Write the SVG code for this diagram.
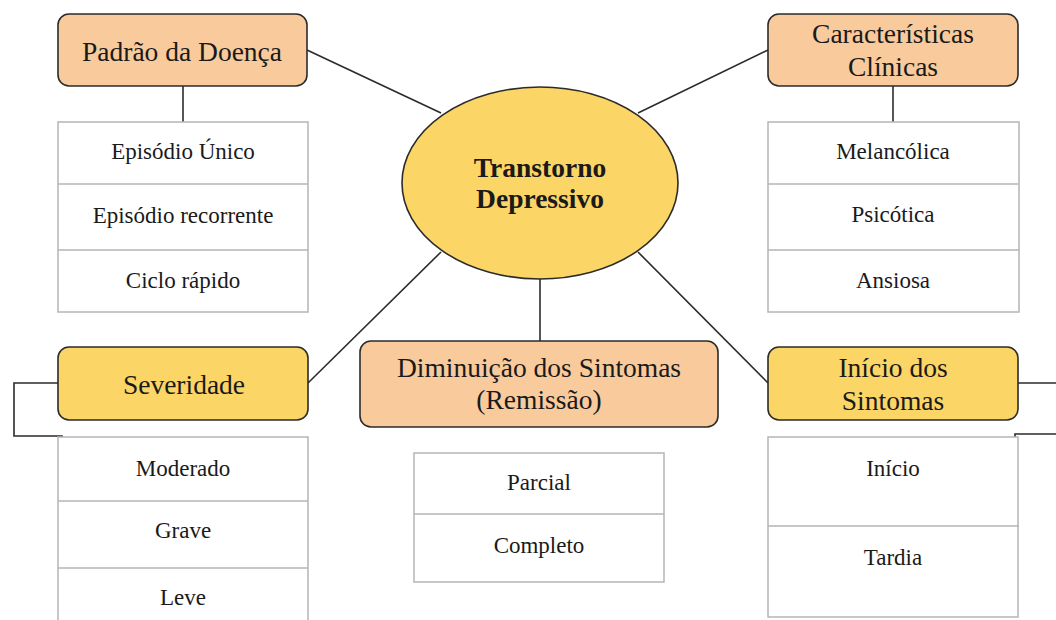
<svg xmlns="http://www.w3.org/2000/svg" width="1056" height="620" viewBox="0 0 1056 620">
<style>
.peach{fill:#F8CA9C;stroke:#2b2b2b;stroke-width:1.6}
.yellow{fill:#FBD565;stroke:#2b2b2b;stroke-width:1.6}
.tbl{fill:#fff;stroke:#b5b5b5;stroke-width:1.5}
.sep{stroke:#b5b5b5;stroke-width:1.5}
.title{font-family:"Liberation Serif",serif;font-size:27.5px;fill:#1a1a1a;text-anchor:middle}
.item{font-family:"Liberation Serif",serif;font-size:23px;fill:#1a1a1a;text-anchor:middle}
.center{font-family:"Liberation Serif",serif;font-size:27.5px;font-weight:bold;fill:#1a1a1a;text-anchor:middle}
.conn{fill:none;stroke:#2b2b2b;stroke-width:1.6}
</style>
<rect width="1056" height="620" fill="#fff"/>
<g id="connectors">
<line class="conn" x1="307" y1="50" x2="441" y2="113"/>
<line class="conn" x1="768" y1="50" x2="638" y2="113"/>
<line class="conn" x1="441" y1="252" x2="308" y2="383"/>
<line class="conn" x1="638" y1="252" x2="768" y2="383"/>
<line class="conn" x1="540" y1="279" x2="540" y2="341"/>
<line class="conn" x1="183" y1="86" x2="183" y2="122"/>
<line class="conn" x1="893" y1="86" x2="893" y2="122"/>
<polyline class="conn" points="58,383 14,383 14,436 62,436 62,453"/>
<line class="conn" x1="1018" y1="383" x2="1056" y2="383"/>
<polyline class="conn" points="1056,434 1015,434 1015,450"/>
</g>
<g id="center">
<ellipse class="yellow" cx="540" cy="183" rx="138" ry="96"/>
<text class="center" x="540" y="177">Transtorno</text>
<text class="center" x="540" y="208">Depressivo</text>
</g>
<g id="padrao">
<rect class="peach" x="58" y="14" width="249" height="72" rx="11"/>
<text class="title" x="182" y="61">Padrão da Doença</text>
</g>
<g id="padrao-list">
<rect class="tbl" x="58" y="122" width="250" height="190"/>
<line class="sep" x1="58" y1="184" x2="308" y2="184"/>
<line class="sep" x1="58" y1="250" x2="308" y2="250"/>
<text class="item" x="183" y="159">Episódio Único</text>
<text class="item" x="183" y="223">Episódio recorrente</text>
<text class="item" x="183" y="288">Ciclo rápido</text>
</g>
<g id="caracteristicas">
<rect class="peach" x="768" y="14" width="250" height="72" rx="11"/>
<text class="title" x="893" y="43">Características</text>
<text class="title" x="893" y="76">Clínicas</text>
</g>
<g id="caracteristicas-list">
<rect class="tbl" x="768" y="122" width="251" height="190"/>
<line class="sep" x1="768" y1="184" x2="1019" y2="184"/>
<line class="sep" x1="768" y1="250" x2="1019" y2="250"/>
<text class="item" x="893" y="159">Melancólica</text>
<text class="item" x="893" y="222">Psicótica</text>
<text class="item" x="893" y="288">Ansiosa</text>
</g>
<g id="severidade">
<rect class="yellow" x="58" y="347" width="250" height="73" rx="11"/>
<text class="title" x="184" y="394">Severidade</text>
</g>
<g id="severidade-list">
<rect class="tbl" x="58" y="437" width="250" height="200"/>
<line class="sep" x1="58" y1="501" x2="308" y2="501"/>
<line class="sep" x1="58" y1="568" x2="308" y2="568"/>
<text class="item" x="183" y="476">Moderado</text>
<text class="item" x="183" y="538">Grave</text>
<text class="item" x="183" y="605">Leve</text>
</g>
<g id="diminuicao">
<rect class="peach" x="360" y="341" width="358" height="86" rx="11"/>
<text class="title" x="539" y="377">Diminuição dos Sintomas</text>
<text class="title" x="539" y="409">(Remissão)</text>
</g>
<g id="diminuicao-list">
<rect class="tbl" x="414" y="453" width="250" height="129"/>
<line class="sep" x1="414" y1="514" x2="664" y2="514"/>
<text class="item" x="539" y="490">Parcial</text>
<text class="item" x="539" y="553">Completo</text>
</g>
<g id="inicio">
<rect class="yellow" x="768" y="347" width="250" height="73" rx="11"/>
<text class="title" x="893" y="377">Início dos</text>
<text class="title" x="893" y="410">Sintomas</text>
</g>
<g id="inicio-list">
<rect class="tbl" x="768" y="437" width="250" height="180"/>
<line class="sep" x1="768" y1="526" x2="1019" y2="526"/>
<text class="item" x="893" y="476">Início</text>
<text class="item" x="893" y="565">Tardia</text>
</g>
</svg>
